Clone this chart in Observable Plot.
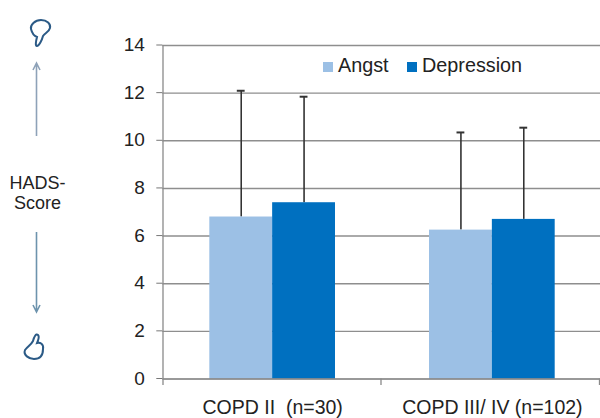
<!DOCTYPE html>
<html><head><meta charset="utf-8">
<script src="https://cdn.jsdelivr.net/npm/d3@7"></script>
<script src="https://cdn.jsdelivr.net/npm/@observablehq/plot@0.6"></script>
<style>
html,body{margin:0;padding:0;background:#fff}
#wrap{position:relative;width:600px;height:418px;overflow:hidden;font-family:"Liberation Sans",Arial,sans-serif;color:#222}
#wrap svg{display:block}
#deco{position:absolute;left:0;top:0;pointer-events:none}
.lg{position:absolute;font-size:19.8px;line-height:20px;top:55px;white-space:nowrap}
.sw{position:absolute;width:10px;height:10px;top:62px}
.hads{position:absolute;left:0;width:75px;text-align:center;font-size:18px;line-height:20px;top:173px}
</style></head><body>
<div id="wrap"></div>
<script>
const categories = ["COPD II  (n=30)", "COPD III/ IV (n=102)"];
const series = ["Angst", "Depression"];
const means = {Angst: [6.8, 6.25], Depression: [7.4, 6.7]};
const uppers = {Angst: [12.1, 10.35], Depression: [11.85, 10.55]};
const yTicks = [0, 2, 4, 6, 8, 10, 12, 14];
const colors = ["#9cc0e5", "#0070c0"];

const rows = series.flatMap(s => categories.map((c, i) => ({
  cat: c, s, v: means[s][i], up: uppers[s][i]
})));

const chart = Plot.plot({
  width: 600, height: 418,
  marginLeft: 162.3, marginRight: -1.7, marginTop: 45, marginBottom: 39.5,
  style: {background: "#fff", fontFamily: "'Liberation Sans',Arial,sans-serif", overflow: "hidden"},
  fx: {domain: categories, padding: 0, label: null, round: false},
  x: {domain: series, paddingInner: 0, paddingOuter: 0.748, axis: null, round: false},
  y: {domain: [0, 14], label: null},
  color: {domain: series, range: colors},
  marks: [
    Plot.ruleY(yTicks.filter(d => d > 0), {stroke: "#8e8e8e", strokeWidth: 1.4, facet: "exclude"}),
    Plot.ruleX(rows, {x: "s", fx: "cat", y1: "v", y2: "up", stroke: "#333", strokeWidth: 1.6}),
    Plot.tickY(rows, {x: "s", fx: "cat", y: "up", stroke: "#333", strokeWidth: 2, insetLeft: 27.5, insetRight: 27.5}),
    Plot.barY(rows, {x: "s", fx: "cat", y: "v", fill: "s"}),
    Plot.ruleY([0], {stroke: "#777", strokeWidth: 1.3}),
    Plot.axisY({
      ticks: yTicks, tickSize: 6, tickPadding: 12, fontSize: 19, color: "#222",
      stroke: "#777", label: null, anchor: "left", dy: -0.5
    }),
    Plot.axisFx({
      anchor: "bottom", tickSize: 0, tickPadding: 21, fontSize: 19.5, color: "#222", label: null
    })
  ]
});
const wrap = document.getElementById("wrap");
wrap.appendChild(chart);

wrap.insertAdjacentHTML("beforeend", `
<div class="sw" style="left:323px;background:${colors[0]}"></div>
<div class="lg" style="left:338px">${series[0]}</div>
<div class="sw" style="left:407px;background:${colors[1]}"></div>
<div class="lg" style="left:422px">${series[1]}</div>
<div class="hads">HADS-<br>Score</div>
<svg id="deco" width="600" height="418" fill="none">
  <path d="M163 45V385M381 378.5V385M599.5 378.5V385" stroke="#8a8a8a" stroke-width="1.3"/>
  <path d="M36.5 136V64M33 70L36.5 63L40 70" stroke="#8ea2b8" stroke-width="1.6"/>
  <path d="M36.5 232V311M33 305L36.5 312L40 305" stroke="#6d93ad" stroke-width="1.6"/>
  <path d="M31 29C30 25 35 20 41 20C47 20 51 24 50 28C49 32 45 33 43 36C42 40 39 46 37 46C35 46 36 41 37 37C34 36 32 33 31 29Z" stroke="#2b5a86" stroke-width="2"/>
  <path d="M25 350C28 346 31 345 33 341C34 337 36 333 38 335C40 337 38 340 37 343C40 342 44 344 43 349C43 355 40 359 34 359C29 359 23 355 25 350Z" stroke="#2b5a86" stroke-width="2"/>
</svg>`);
</script>
</body></html>
